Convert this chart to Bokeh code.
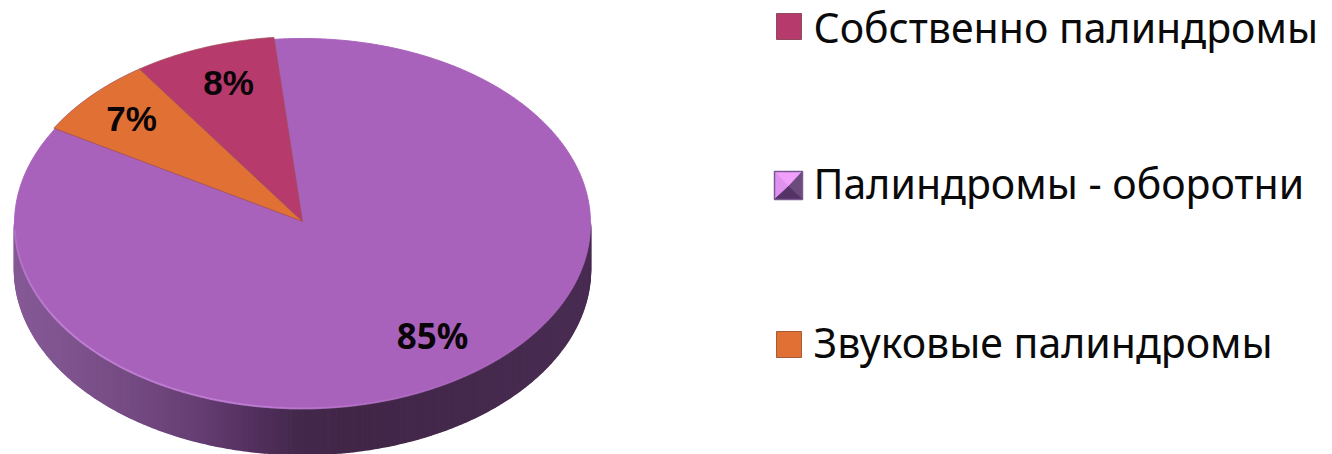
import numpy as np
from bokeh.plotting import figure
from bokeh.models import Range1d
from bokeh.core.properties import value
from bokeh.embed import file_html
from bokeh.resources import INLINE

labels = ["Собственно палиндромы", "Палиндромы - оборотни", "Звуковые палиндромы"]
shares = [8, 85, 7]
colors = ["#b63a6c", "#a962bc", "#e07034"]

W, H = 1332, 454
p = figure(width=W, height=H, output_backend="svg", toolbar_location=None,
           x_range=Range1d(0, W), y_range=Range1d(H, 0),
           background_fill_color="white", border_fill_color="white", min_border=0)
p.axis.visible = False
p.grid.visible = False
p.outline_line_color = None

CX, CY, RX, RY, DEPTH, START = 302, 223, 288, 185, 46, -34.5
def pt(a, dy=0):
    a = np.radians(a)
    return CX + RX * np.sin(a), CY - RY * np.cos(a) + dy

# side wall, shaded across its width
stops_x = [14, 60, 130, 200, 250, 300, 360, 590]
stops_c = [(0x86, 0x5a, 0x96), (0x80, 0x55, 0x90), (0x75, 0x4b, 0x83), (0x66, 0x3e, 0x73),
           (0x54, 0x31, 0x60), (0x44, 0x29, 0x4c), (0x42, 0x27, 0x49), (0x4a, 0x2d, 0x53)]
aa = np.linspace(90, 270, 361)
xs, ys, cs = [], [], []
for a0, a1 in zip(aa[:-1], aa[1:]):
    x0, y0 = pt(a0)
    x1, y1 = pt(a1)
    xs.append([x0, x1, x1, x0])
    ys.append([y0, y1, y1 + DEPTH, y0 + DEPTH])
    xm = (x0 + x1) / 2
    rgb = [int(np.interp(xm, stops_x, [c[i] for c in stops_c])) for i in range(3)]
    cs.append("#%02x%02x%02x" % tuple(rgb))
p.patches(xs, ys, fill_color=cs, line_color=cs, line_width=1.5)

# full top face under the slices
ex, ey = pt(np.linspace(0, 360, 721))
p.patch(ex, ey, fill_color=colors[1], line_color=colors[1], line_width=1)

# slice angles come from the shares
total = sum(shares)
angle = START
spans = []
for s in shares:
    spans.append((angle, angle + s / total * 360))
    angle += s / total * 360
for i in [0, 2]:
    a = np.linspace(spans[i][0], spans[i][1], 120)
    ex, ey = pt(a, -2)
    p.patch(np.r_[CX, ex], np.r_[CY - 2, ey], fill_color=colors[i],
            line_color="#a0505a", line_width=1, line_alpha=0.8)

# soft rim on the front of the top face
a = np.linspace(95, 268, 174)
ex, ey = pt(a)
rim_x = [[ex[k], ex[k + 1]] for k in range(len(a) - 1)]
rim_y = [[ey[k], ey[k + 1]] for k in range(len(a) - 1)]
rim_alpha = list(np.interp(a[:-1], [95, 150, 190, 235, 268], [0.05, 0.2, 0.7, 0.75, 0.35]))
p.multi_line(rim_x, rim_y, line_color="#c98ade", line_alpha=rim_alpha, line_width=2)

# percentage labels
label_pos = [(228, 82), (432, 335), (131, 118)]
for s, (lx, ly) in zip(shares, label_pos):
    big = s > 50
    p.text([lx], [ly], text=[f"{s}%"], text_align="center", text_baseline="middle",
           text_font=value("Noto Sans" if big else "Liberation Sans"), text_font_style="bold",
           text_font_size="35px", text_color="#0a0508")

# legend
rows = [26, 185, 344]
text_rows = [26, 182, 341]
for lab, col, yc, ty, i in zip(labels, colors, rows, text_rows, range(3)):
    if i == 1:
        x0, x1, y0, y1 = 774, 802, yc - 14, yc + 14
        mx, my = 788, yc + 1
        p.patch([x0, x1, mx], [y0, y0, my], fill_color="#f0a0fa", line_color="#f0a0fa")
        p.patch([x0, mx, x0], [y0, my, y1], fill_color="#e090ee", line_color="#e090ee")
        p.patch([x1, x1, mx], [y0, y1, my], fill_color="#6c4a7c", line_color="#6c4a7c")
        p.patch([x0, x1, mx], [y1, y1, my], fill_color="#553266", line_color="#553266")
        p.quad(left=x0, right=x1, top=y0, bottom=y1, fill_alpha=0, line_color="#7a5a90", line_width=1.5)
    else:
        p.quad(left=776, right=801, top=yc - 13, bottom=yc + 13, fill_color=col,
               line_color="#8f4a5c" if i == 0 else "#a85a38", line_width=1)
    p.text([813], [ty], text=[lab], text_align="left", text_baseline="middle",
           text_font=value("Noto Sans"), text_font_size="41px", text_color="#0a0a0a")

open("out.html", "w").write(file_html(p, INLINE))
